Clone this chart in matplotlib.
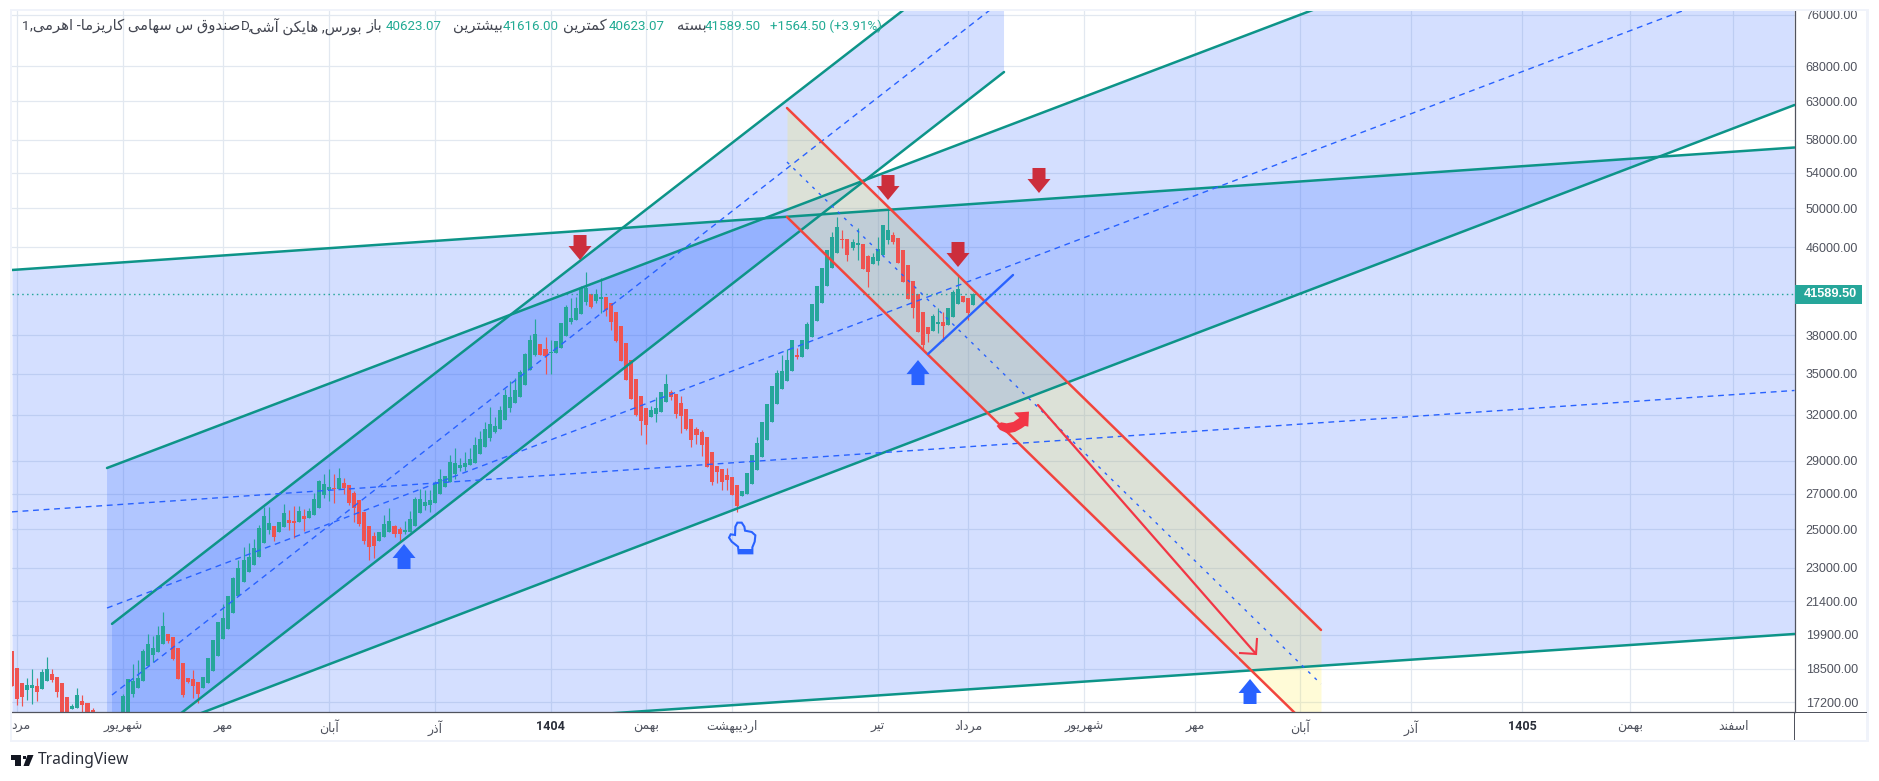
import math
import matplotlib
matplotlib.use("Agg")
import matplotlib.pyplot as plt
from matplotlib.patches import Rectangle, Polygon
from matplotlib.transforms import Affine2D
from matplotlib.ticker import NullLocator

nan = float("nan")

# ---------------- candles (Heikin Ashi, daily) ----------------
opens = [19221,18528,17935,17665,17742,17820,17704,18014,18288,18170,17935,17400,16950,16990,17250,17175,16915,
 nan,nan,nan,nan,nan,
 16450,16770,17512,17742,18014,18608,19055,19179,19514,19940,19811,19346,18729,18131,18092,17975,17742,17935,
 18408,19014,19726,20157,20866,21650,22312,22799,23155,23548,24274,24966,25183,24858,25130,25511,25456,25401,25738,25621,
 25794,26183,26927,27219,27337,27278,27634,27515,27043,26638,25956,25183,24642,24379,24589,24858,25183,25020,24858,24858,
 25183,25900,26297,26351,26465,26985,27396,27694,28177,28545,28607,28731,28855,29421,29871,30456,30854,31054,31665,32498,
 32850,33280,34153,35278,36440,37316,36915,36598,36598,36995,37968,39134,39303,39817,40862,41575,40950,41127,41306,40774,
 39989,38795,37397,36049,34600,33351,32498,31870,32078,32217,32921,33640,33495,32850,32427,31733,31054,30854,30522,29549,
 28669,28483,28116,27995,27515,26869,26985,27575,28421,29234,30325,31528,32780,33859,34450,35202,36440,36282,36915,37886,
 39219,40774,42300,43977,45427,46820,46820,45920,46220,46320,45135,44360,44650,45230,46720,47230,46920,45722,44265,42760,
 41575,39989,38710,38380,38966,39134,38880,39558,40685,41395,41216,40623]
highs = [19221,18528,17935,18131,18488,18131,18488,18973,18488,18170,17935,17400,17137,17742,17474,17175,16990,
 nan,nan,nan,nan,nan,
 17512,18092,18689,18850,19304,19940,19854,20289,20911,19940,19811,19346,18729,18131,18448,17975,18170,18932,
 19683,20464,21277,21650,22565,23397,24064,24274,24484,25248,26240,26240,25183,25401,26408,26069,26297,26297,26126,26183,
 27043,27814,28177,28483,28177,28545,27935,27515,27161,26638,25956,25183,24858,24858,25794,26183,25238,25130,25456,26012,
 26811,27278,27219,27219,27754,28483,28054,29360,29807,29170,29549,29807,30522,30921,31528,32568,31870,32640,33859,34450,
 34675,35278,36598,38050,39388,37316,37886,37640,37559,39050,40597,41216,41306,42300,43599,41575,42027,43040,41306,40774,
 39989,38795,37397,36049,34600,33351,32498,32640,33280,33640,34974,33786,33495,33351,32427,31733,31190,30987,30522,29549,
 28669,28483,28545,27995,27515,27161,28238,29360,30522,31528,32780,34080,35278,36440,36915,37640,36995,37640,39134,40685,
 42300,43977,45722,47535,49100,47740,46820,46820,47950,46320,45230,45427,47026,48260,49850,47535,46920,45722,44265,42760,
 41575,39989,38710,39817,40333,39989,40333,41935,43320,41395,41216,41616]
lows = [17820,17100,17060,17287,17137,17250,17704,18014,17975,17400,16590,16376,16950,16990,16843,16376,16550,
 nan,nan,nan,nan,nan,
 16450,16770,17400,17742,18014,18608,18769,19179,19514,19556,18850,18092,17400,17935,17362,17175,17742,17935,
 18408,19014,19726,20157,20866,21650,22312,22799,23155,23548,24274,24750,24379,24858,25130,24966,24536,25401,24912,25621,
 25794,26183,26754,26580,26465,27278,26985,26351,25401,25183,24222,23397,23497,24379,24589,24858,24589,24326,24750,24858,
 25183,25900,26069,25956,26465,26985,27396,27694,27874,28360,28360,28731,28855,29421,29871,30259,30788,31054,31665,32217,
 32850,33280,34153,35278,36361,36440,34974,34974,36598,36995,37968,38966,39303,39817,40598,40333,40774,39903,39644,38462,
 37478,35971,34524,33137,31940,30656,30065,31870,31528,32217,32921,33065,31800,30788,30987,29871,30065,29294,28607,27515,
 27634,27219,27219,26927,25956,26869,26985,27575,28421,29234,30325,31528,32780,33859,34450,35202,36127,36282,36915,37886,
 39219,40774,42300,43977,45427,45920,44650,45722,44745,43880,42210,44360,44265,45230,46320,46320,44455,42667,41127,39473,
 38297,36835,37478,38380,38214,37559,38880,39558,40685,40862,39303,40623]
closes = [17820,17325,17400,17858,17858,17590,18368,18488,18052,17590,16590,16376,17060,17474,17100,16376,16550,
 nan,nan,nan,nan,nan,
 17436,18092,18014,18131,19221,19514,19346,19897,20289,19640,18891,18092,17474,17975,17820,17512,18170,18932,
 19683,20464,20641,21650,22516,22980,23397,23548,24012,25086,25738,25346,24589,25401,25900,25346,25346,26012,25566,26012,
 26696,27754,27575,27396,27278,27935,27337,26465,26183,25292,24379,24064,24116,24858,25292,25456,24750,24750,24966,25566,
 26696,26696,26523,26638,27634,27874,28054,28917,28855,28731,28855,29107,30000,30390,31054,31392,31257,32357,33423,33280,
 33786,35126,36519,37640,38132,36440,36361,36677,37559,39050,40419,39473,40333,42118,42118,40419,41575,41306,40160,39134,
 37559,35971,34524,33137,32008,31596,31325,32357,32498,33640,34227,33280,32078,31940,31054,30325,30656,30000,28607,27694,
 28299,27694,27814,26927,26297,27161,28238,29360,30130,31528,32780,34080,35050,35202,36049,37640,36282,37640,38966,40685,
 42300,43977,45722,47026,48050,46720,45230,46519,46420,43880,43599,45035,45820,48260,47740,46519,44455,42667,41127,40333,
 38297,37235,38132,39644,39134,38795,40333,41755,42027,40862,39903,41589.5]
last_price = 41589.5

# ---------------- price and time axes ----------------
price_ticks = [76000, 68000, 63000, 58000, 54000, 50000, 46000, 38000, 35000, 32000,
               29000, 27000, 25000, 23000, 21400, 19900, 18500, 17200]
month_bars = [1, 22, 42, 63, 84, 107, 126, 143, 172, 190, 213, 235, 256, 278, 300, 321.5, 342]
month_labels = ["مرد", "شهریور", "مهر", "آبان", "آذر", "1404", "بهمن", "اردیبهشت", "تیر",
                "مرداد", "شهریور", "مهر", "آبان", "آذر", "1405", "بهمن", "اسفند"]
bold_labels = ["1404", "1405"]
bar_range = (0, 354.16)
price_range = (16843, 76604)

# ---------------- drawings: (start bar, end bar, start price, end price) ----------------
channel_a_upper = (19.87, 197.1, 20376, 90860)
channel_a_lower = (19.87, 197.1, 14955, 67142)
channel_a_mid = (19.87, 197.1, 17473, 78614)
channel_b_upper = (18.88, 354.16, 28536, 114012)
channel_b_lower = (18.88, 354.16, 15549, 62524)
channel_b_mid = (18.88, 354.16, 21086, 83991)
channel_c_upper = (0, 354.16, 43774, 57037)
channel_c_lower = (0, 354.16, 15399, 19936)
channel_c_mid = (0, 354.16, 25956, 33740)
channel_d_upper = (153.98, 260.08, 62118, 20109)
channel_d_lower = (153.98, 260.08, 49083, 15906)
channel_d_mid = (153.98, 260.08, 55279, 17894)
target_line = (203.85, 247.17, 32699, 19093)
support_line = (182.0, 198.89, 36507, 43303)
down_arrows = [(112.86, 44727), (174.05, 50919), (204.05, 51697), (187.96, 44058)]
up_arrows = [(77.89, 24214), (180.01, 36032), (245.98, 18088)]
hand_mark = (144.65, 25394)
curl_mark = (195.9, 31182)

# ---------------- header text ----------------
title_name = "صندوق س سهامی کاریزما- اهرمی,"
title_rest = "بورس, هایکن آشی"
ohlc_open_label, ohlc_high_label, ohlc_low_label, ohlc_close_label = "باز", "بیشترین", "کمترین", "بسته"
ohlc_open, ohlc_high, ohlc_low, ohlc_close = "40623.07", "41616.00", "40623.07", "41589.50"
ohlc_change = "+1564.50 (+3.91%)"

# ---------------- Persian shaping (matplotlib has no bidi or joining) ----------------
J4 = {'ب':0xFE8F,'ت':0xFE95,'ث':0xFE99,'ج':0xFE9D,'ح':0xFEA1,'خ':0xFEA5,'س':0xFEB1,'ش':0xFEB5,'ص':0xFEB9,
      'ض':0xFEBD,'ط':0xFEC1,'ظ':0xFEC5,'ع':0xFEC9,'غ':0xFECD,'ف':0xFED1,'ق':0xFED5,'ل':0xFEDD,'م':0xFEE1,
      'ن':0xFEE5,'ه':0xFEE9,'پ':0xFB56,'چ':0xFB7A,'ک':0xFB8E,'گ':0xFB92,'ی':0xFBFC}
J2 = {'ا':0xFE8D,'آ':0xFE81,'د':0xFEA9,'ذ':0xFEAB,'ر':0xFEAD,'ز':0xFEAF,'ژ':0xFB8A,'و':0xFEED}

def shape(s):
    if not any(ch in J4 or ch in J2 for ch in s):
        return s
    out = []
    for i, ch in enumerate(s):
        prev = s[i - 1] if i else ''
        nxt = s[i + 1] if i + 1 < len(s) else ''
        from_prev = prev in J4
        to_next = ch in J4 and (nxt in J4 or nxt in J2)
        if ch in J4:
            idx = 3 if from_prev and to_next else 1 if from_prev else 2 if to_next else 0
            out.append(chr(J4[ch] + idx))
        elif ch in J2:
            out.append(chr(J2[ch] + (1 if from_prev else 0)))
        else:
            out.append(ch)
    return ''.join(reversed(out))

# ---------------- figure ----------------
W, H = 1879, 781
plt.rcParams['lines.scale_dashes'] = False
plt.rcParams['font.family'] = ['Roboto', 'DejaVu Sans']
fig = plt.figure(figsize=(W / 100, H / 100), dpi=100, facecolor='white')
L, R, T, B = 12, 1794.5, 11, 712
ax = fig.add_axes([L / W, 1 - B / H, (R - L) / W, (B - T) / H])
ax.set_yscale('log')
ax.set_xlim(*bar_range)
ax.set_ylim(*price_range)
ax.set_facecolor('white')

GREY = '#50535e'
ax.yaxis.tick_right()
ax.yaxis.set_minor_locator(NullLocator())
ax.set_yticks(price_ticks)
ax.set_yticklabels([f"{v:.2f}" for v in price_ticks], fontsize=9.0, color=GREY, family=['Liberation Sans'])
ax.yaxis.set_minor_locator(NullLocator())
ax.set_xticks(month_bars)
# the first label sits clear of the frame, so it is placed on its own below
ax.set_xticklabels([''] + [shape(m) for m in month_labels[1:]], fontsize=9, color=GREY)
xlabels = ax.get_xticklabels()
for lab, raw in zip(xlabels, month_labels):
    if raw in bold_labels:
        lab.set_fontweight('bold')
        lab.set_color('#2a2e39')
ax.tick_params(axis='both', length=0)
ax.tick_params(axis='y', pad=8)
ax.tick_params(axis='x', pad=6)
ax.grid(True, color='#e2e8f0', lw=0.9, zorder=0)
ax.set_axisbelow(True)
for side in ('top', 'left'):
    ax.spines[side].set_visible(False)
for side in ('bottom', 'right'):
    ax.spines[side].set_color(GREY)
    ax.spines[side].set_linewidth(0.9)

BLUE, TEAL, RED = '#2962FF', '#0d9488', '#F2453D'

def fill(up, lo, color, z=1):
    ax.fill_between(up[:2], up[2:], lo[2:], color=color, alpha=0.2, lw=0, zorder=z)

def seg(s, color, lw=1.8, dashes=None, z=4):
    line, = ax.plot(s[:2], s[2:], color=color, lw=lw, zorder=z, solid_capstyle='round')
    if dashes:
        line.set_dashes(dashes)
    return line

fill(channel_c_upper, channel_c_lower, BLUE)
fill(channel_b_upper, channel_b_lower, BLUE)
fill(channel_a_upper, channel_a_lower, BLUE)
fill(channel_d_upper, channel_d_lower, '#FFEB3B', z=1.5)

# candles
bars = [i for i in range(len(opens)) if not math.isnan(opens[i])]
cols = ['#26a69a' if closes[i] >= opens[i] else '#ef5350' for i in bars]
ax.vlines(bars, [lows[i] for i in bars], [highs[i] for i in bars], colors=cols, lw=0.85, zorder=2)
ax.bar(bars, [abs(closes[i] - opens[i]) for i in bars], bottom=[min(opens[i], closes[i]) for i in bars],
       width=0.8, color=cols, lw=0, zorder=2.1)
ax.axhline(last_price, color='#26a69a', ls=(0, (1.1, 2.4)), lw=1.0, zorder=3)

for s in (channel_a_upper, channel_a_lower, channel_b_upper, channel_b_lower, channel_c_upper, channel_c_lower):
    seg(s, TEAL)
for s in (channel_a_mid, channel_b_mid, channel_c_mid):
    seg(s, BLUE, lw=1.0, dashes=(4.2, 3.4))
seg(channel_d_mid, BLUE, lw=1.0, dashes=(2.2, 4.2))
for s in (channel_d_upper, channel_d_lower):
    seg(s, RED)
seg(target_line, '#f23645', lw=1.6)
seg(support_line, BLUE, lw=1.7)

def icon(anchor, pts, scale_y=1, **kw):
    x, y = ax.transData.transform(anchor)
    tr = Affine2D().scale(1, -scale_y).translate(x, y)
    return ax.add_patch(Polygon(pts, closed=kw.pop('closed', True), transform=tr, clip_on=False, **kw))

arrow_shape = [(0, 0), (-11.5, -14), (-6.5, -14), (-6.5, -25), (6.5, -25), (6.5, -14), (11.5, -14)]
for a in down_arrows:
    icon(a, arrow_shape, scale_y=1, facecolor='#cc2e3c', lw=0, zorder=5)
for a in up_arrows:
    icon(a, arrow_shape, scale_y=-1, facecolor=BLUE, lw=0, zorder=5)

# head of the target line
icon((target_line[1], target_line[3]), [(1, -16), (0, 0), (-17, -1)], closed=False, fill=False,
     edgecolor='#f23645', lw=1.5, zorder=5)

# hand
hand = [(706,860),(712,848),(725,848),(733,860),(735,872),(755,876),(766,886),(764,905),(757,922),(757,940),
        (716,940),(714,920),(695,905),(687,893),(692,883),(705,885)]
icon(hand_mark, [((a - 720) / 3, (b - 846) / 3) for a, b in hand], facecolor='none', edgecolor=BLUE, lw=1.5, zorder=5)
wrist = [(716,926),(757,926),(757,940),(716,940)]
icon(hand_mark, [((a - 720) / 3, (b - 846) / 3) for a, b in wrist], facecolor=BLUE, lw=0, zorder=5)

# curled arrow
curl = [(290,198),(300,210),(322,220),(345,216),(365,205),(375,198),(385,200),(387,155),(342,158),(358,174),
        (340,186),(320,190),(303,187)]
icon(curl_mark, [((a - 294) / 3, (b - 201) / 3) for a, b in curl], facecolor='#f23645', lw=0, zorder=5)

# ---------------- chrome in figure pixels ----------------
def frect(x0, y0, x1, y1, **kw):
    fig.add_artist(Rectangle((x0 / W, 1 - y1 / H), (x1 - x0) / W, (y1 - y0) / H, transform=fig.transFigure, **kw))

def fpoly(pts, **kw):
    fig.add_artist(Polygon([(x / W, 1 - y / H) for x, y in pts], transform=fig.transFigure, **kw))

FR = '#f0f3fa'
frect(10, 9, 1869, 11, color=FR, lw=0)
frect(10, 740, 1869, 742, color=FR, lw=0)
frect(10, 9, 12, 742, color=FR, lw=0)
frect(1866, 9, 1869, 742, color=FR, lw=0)
frect(1794, 712, 1795, 740, color=GREY, lw=0)
frect(1795, 711.5, 1867, 712.5, color=GREY, lw=0)

fig.text(21 / W, 1 - 725 / H, shape(month_labels[0]), color=GREY, fontsize=9, ha='center', va='center')

frect(1795, 285, 1862, 304, color='#26a69a', lw=0)
fig.text(1830 / W, 1 - 294.5 / H, f"{last_price:.2f}", color='white', fontsize=9.2, fontweight='bold',
         ha='center', va='center', family=['Liberation Sans'])

def header(text, x, color, size=9.6):
    fig.text(x / W, 1 - 26 / H, text, color=color, fontsize=size, ha='left', va='center')

TXT, VAL = '#434651', '#22ab94'
header("1", 21.5, TXT)
header(shape(title_name), 30, TXT, 10.6)
header("D,", 241, TXT)
header(shape(title_rest), 250, TXT, 10.6)
header(shape(ohlc_open_label), 367, TXT, 10.6)
header(ohlc_open, 386, VAL)
header(shape(ohlc_high_label), 453, TXT, 10.6)
header(ohlc_high, 503, VAL)
header(shape(ohlc_low_label), 563, TXT, 10.6)
header(ohlc_low, 609, VAL)
header(shape(ohlc_close_label), 677, TXT, 10.6)
header(ohlc_close, 705, VAL)
header(ohlc_change, 770, VAL)

# TradingView mark
LOGO = '#131722'
fpoly([(11, 755), (21, 755), (21, 766), (15, 766), (15, 759.5), (11, 759.5)], color=LOGO, lw=0)
fpoly([(23, 755.5), (26, 755.5), (26, 759), (23, 759)], color=LOGO, lw=0)
fpoly([(27.5, 755), (33.5, 755), (29, 766), (23.5, 766)], color=LOGO, lw=0)
fig.text(38 / W, 1 - 760 / H, "TradingView", color='#2a2e39', fontsize=11.2, ha='left', va='center',
         family=['Noto Sans'])

fig.savefig('out.png', dpi=100, facecolor='white')
